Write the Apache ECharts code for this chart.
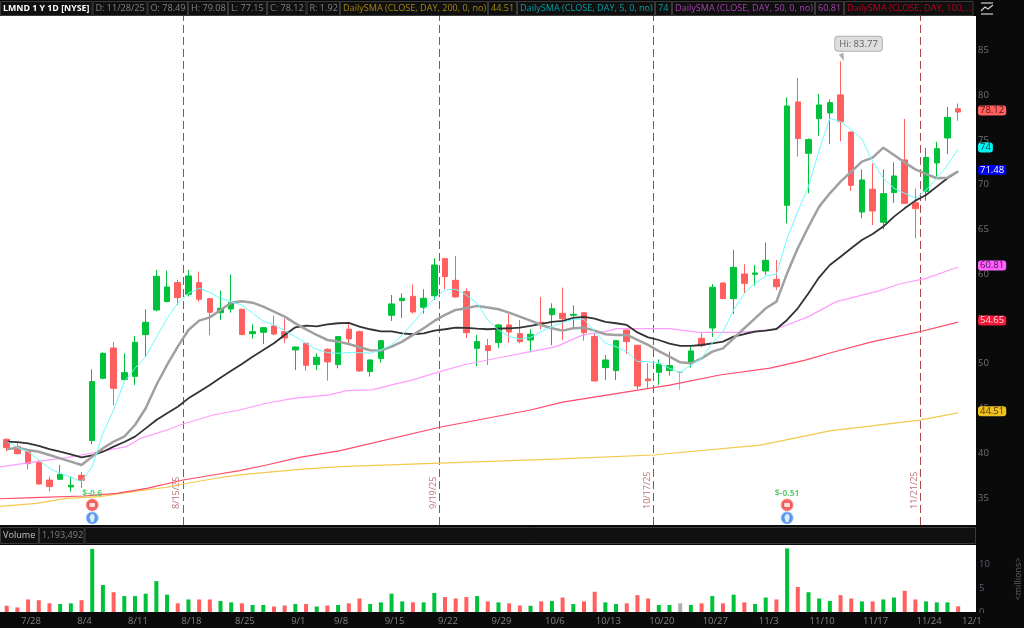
<!DOCTYPE html>
<html style="height: 100%">
<head>
  <meta charset="utf-8">
</head>
<body style="height: 100%; margin: 0; background: #0a0a0a">
  <div id="container" style="width: 1024px; height: 628px"></div>

  <script type="text/javascript" src="https://cdn.jsdelivr.net/npm/echarts@6/dist/echarts.min.js"></script>
  <script type="text/javascript">
    // daily bars, 7/24/25 to 11/28/25
    const opens = [41.55,40.74,40.2,38.95,37.0,37.09,36.23,37.53,41.41,48.37,51.76,48.22,48.59,53.25,56.0,56.94,59.06,57.76,59.06,57.27,55.7,56.12,56.08,53.36,53.51,54.22,53.58,51.54,52.28,49.9,51.61,49.9,53.85,53.58,49.12,50.57,55.41,57.05,57.53,56.3,57.6,61.74,59.32,58.05,51.72,52.02,52.36,54.33,53.36,52.65,54.63,55.48,55.63,55.41,55.7,53.03,49.56,49.23,53.77,52.06,48.3,49.04,49.23,49.04,50.05,52.84,53.99,59.02,57.27,60.03,59.99,60.36,59.43,67.7,79.25,73.51,77.38,78.02,80.03,75.89,66.95,69.49,65.8,69.12,72.77,67.98,69.26,72.43,75.22,78.49];
    const closes = [40.62,39.95,38.84,36.56,36.27,37.64,36.42,36.97,48.0,51.16,47.25,49.0,52.39,54.63,59.77,58.58,57.38,59.8,57.2,55.75,56.19,56.86,53.25,53.58,54.03,53.32,52.88,51.87,49.82,50.72,50.2,53.03,52.77,49.19,50.42,52.58,56.68,57.31,55.78,57.31,61.03,59.73,57.46,53.47,52.47,51.46,54.33,53.55,52.47,53.29,54.48,56.15,55.04,55.52,53.47,48.07,50.42,52.58,52.47,47.51,48.11,49.97,49.79,49.04,51.43,52.02,58.54,57.27,60.77,58.98,60.14,61.55,58.61,78.8,75.15,75.04,78.91,79.17,77.05,69.93,70.53,67.07,69.0,70.98,67.92,67.33,73.06,74.03,77.53,78.12];
    const lows = [40.2,39.9,38.2,36.49,35.74,37.0,35.71,36.12,41.0,48.26,45.35,48.18,47.63,50.79,55.86,56.86,56.56,57.5,56.94,53.18,54.89,55.7,53.18,52.8,52.2,53.18,52.32,49.3,49.23,49.3,48.11,49.49,52.28,49.08,48.56,50.12,54.78,55.11,55.6,55.6,57.12,58.31,57.38,52.88,49.75,49.86,51.76,52.36,52.28,51.28,53.85,52.06,52.65,54.0,52.58,48.03,48.18,48.18,51.09,47.14,47.25,47.63,48.67,47.07,49.56,51.83,52.99,57.23,55.56,57.87,58.72,59.92,58.24,65.69,73.14,69.04,75.45,74.55,74.85,69.3,66.25,65.5,65.02,67.96,67.89,64.01,68.22,70.9,73.43,77.15];
    const highs = [41.67,41.1,40.36,39.25,37.38,38.69,37.38,37.9,49.38,51.28,52.43,51.16,53.1,56.08,60.47,60.4,59.36,60.47,60.29,57.3,58.17,59.95,56.15,54.4,54.07,55.37,55.04,51.9,52.36,51.16,51.72,53.1,54.44,53.7,50.49,52.65,57.68,57.87,58.87,58.32,61.78,61.82,62.04,58.43,53.21,52.77,54.44,55.6,54.89,53.85,57.46,56.75,58.5,56.53,55.78,53.4,50.98,52.65,53.85,52.06,50.05,50.49,51.35,49.12,51.91,53.4,58.91,59.1,62.71,61.11,61.03,63.53,61.59,79.77,81.93,75.19,80.14,79.54,83.77,75.93,71.72,72.39,71.72,72.5,77.35,69.56,74.11,74.81,78.69,79.08];
    const volumes = [1.3,0.95,2.6,2.45,1.8,1.65,1.8,2.45,13.1,5.6,4.1,3.3,3.3,3.8,6.4,3.6,1.8,2.6,2.6,2.6,2.3,2.0,1.8,1.45,1.45,1.15,1.35,1.65,1.65,1.15,1.35,1.45,1.8,2.8,1.65,2.0,3.8,2.2,2.0,2.0,3.95,3.1,2.8,3.1,3.3,2.2,2.0,1.8,1.35,1.3,2.2,2.3,3.0,1.65,2.2,4.2,2.0,1.65,1.8,3.5,2.8,1.45,1.45,1.8,1.45,1.8,3.3,1.8,3.6,2.0,1.65,3.0,2.6,13.2,5.2,4.1,2.8,2.3,3.5,2.8,2.2,2.2,2.6,3.0,4.4,2.6,2.2,2.0,2.0,1.19];

    // moving averages, one reading per bar
    const sma5 = [41.29,40.66,40.17,39.24,38.31,37.75,37.31,36.82,38.5,42.22,44.83,48.0,49.49,50.79,52.95,55.07,56.75,57.87,58.43,57.98,57.31,56.93,56.56,55.63,54.77,54.33,53.69,53.02,52.28,51.61,51.24,51.17,51.24,51.24,51.17,51.54,52.1,53.22,54.52,56.01,57.31,58.24,58.32,57.68,56.75,54.89,53.77,53.03,52.77,52.92,53.59,54.15,54.59,54.97,54.97,53.59,52.28,51.91,51.35,50.24,50.24,50.05,49.49,49.04,49.86,50.6,52.3,53.58,56.0,57.87,58.98,59.8,59.99,64.01,67.0,69.8,73.88,77.42,77.05,76.12,75.11,72.58,70.72,69.6,69.04,68.48,69.41,70.72,72.2,74.0];
    const sma10 = [40.43,40.62,40.36,40.17,39.8,39.43,39.06,38.68,39.62,40.55,41.29,41.85,43.15,45.02,47.62,49.86,51.91,53.77,54.81,55.18,56.0,56.82,56.97,56.82,56.38,55.82,55.26,54.51,53.84,53.21,52.65,52.47,52.21,51.84,51.5,51.46,51.91,52.47,53.22,53.96,54.78,55.45,56.01,56.19,56.46,56.27,56.08,55.71,55.26,54.82,54.33,53.96,53.7,53.96,54.03,53.7,53.29,53.22,53.22,52.66,52.1,51.4,50.8,50.16,50.05,50.6,51.35,51.72,52.84,53.96,55.07,56.19,56.94,60.1,62.9,65.3,67.55,69.04,70.34,71.46,72.58,73.03,74.14,73.32,72.47,71.72,71.2,70.72,70.79,71.5];
    const sma20 = [41.29,41.25,41.1,40.81,40.47,40.17,39.88,39.54,39.76,40.17,40.73,41.25,41.85,42.78,43.71,44.46,45.2,46.13,46.88,47.62,48.44,49.22,49.97,50.79,51.53,52.28,53.21,54.07,54.25,54.18,54.4,54.52,54.56,54.15,53.85,53.62,53.62,53.4,53.29,53.4,53.7,53.85,54.03,54.0,53.92,53.85,53.92,53.96,54.03,54.22,54.44,54.67,54.78,55.12,55.23,55.04,54.67,54.52,54.33,53.5,52.95,52.65,52.25,52.0,52.0,52.09,52.28,52.47,53.03,53.32,53.58,53.69,53.88,54.89,56.19,57.87,59.65,61.03,61.96,62.9,63.83,64.5,65.32,66.43,67.36,68.22,68.85,69.79,70.72,71.48];

    // the slow averages are read at their bends only
    const sma50At = [-1,2.8,5.6,7,8.7,11.2,12.5,15,16.5,19.3,21.8,24.3,26.8,30.2,31.8,34.2,36,38,40.5,42.7,45.8,49,51.4,53.9,56,57,62,64.8,68.6,72,75,77.6,81.7,83.5,86,89];
    const sma50 = [38.4,39.06,39.5,39.8,40.17,40.73,41.66,42.6,43.27,44.27,44.83,45.58,46.13,46.51,46.99,47.07,47.63,48.19,49.12,49.86,50.61,51.35,51.91,53.22,53.59,53.92,53.92,53.51,53.51,53.88,55.26,56.94,58.16,58.91,59.54,60.81];
    const sma100At = [-1,2.5,7.2,10.3,13.1,16.5,19.3,21.8,24.3,27.4,31.2,40.5,49,52,56.7,62,66.7,71.4,74.7,77,81,85.5,89];
    const sma100 = [34.9,35.04,35.22,35.52,36.08,37.01,37.57,38.05,38.68,39.54,40.29,42.9,44.83,45.7,46.6,47.6,48.74,49.5,50.4,51.2,52.46,53.6,54.65];
    const sma200At = [-1,2.8,5.6,8.7,11.8,15,16.5,19.6,21.8,24.3,27.4,31.2,40.5,51.8,60.5,70.5,77,85.4,89];
    const sma200 = [34.03,34.4,34.96,35.15,35.71,36.2,36.56,37.2,37.57,37.87,38.2,38.5,38.9,39.36,39.8,40.9,42.5,43.7,44.51];

    const tickIndexes = [2,7,12,17,22,27,31,36,41,46,51,56,61,66,71,76,81,86,90];
    const tickLabels = ['7/28','8/4','8/11','8/18','8/25','9/1','9/8','9/15','9/22','9/29','10/6','10/13','10/20','10/27','11/3','11/10','11/17','11/24','12/1'];
    const priceTicks = [35,40,45,50,55,60,65,70,75,80,85];
    const volumeTicks = [0,5,10];

    const priceTags = [78.12,74,71.48,60.81,54.65,44.51];
    const eventAt = [16.5,40.5,60.5,85.5];
    const eventLabels = ['8/15/25','9/19/25','10/17/25','11/21/25'];
    const earningsAt = [8,73];
    const earningsLabels = ['$-0.6','$-0.51'];
    const highBar = 78;

    const UP = '#00c13a', DOWN = '#ff5f5f', FLAT = '#b0b0b0';
    const FONT = '"Open Sans", sans-serif';
    // x range chosen so bar 0 lands 6.7px in and bars sit 10.69px apart
    const X_MIN = -0.627, X_MAX = 90.67;

    const barColor = (i) => closes[i] > opens[i] ? UP : closes[i] < opens[i] ? DOWN : FLAT;
    const pairs = (xs, ys) => ys.map((y, i) => [xs ? xs[i] : i, y]);

    const tagStyles = [
      { backgroundColor: '#ff6060', color: '#5a1010' },
      { backgroundColor: '#00f5f5', color: '#064040' },
      { backgroundColor: '#0000f0', color: '#ffffff' },
      { backgroundColor: '#ff60ff', color: '#501050' },
      { backgroundColor: '#f01838', color: '#ffd8d8' },
      { backgroundColor: '#f0c020', color: '#4a3a00' }
    ];
    const tagRich = {};
    tagStyles.forEach((s, i) => {
      tagRich['t' + i] = Object.assign({ borderRadius: 3, padding: [0, 2, 0, 2], lineHeight: 10, fontSize: 9.5, fontFamily: FONT }, s);
    });

    // header strip: edge positions and what is written in each cell
    const headerCells = [
      [0, 92.5, 'LMND 1 Y 1D [NYSE]', '#ffffff', true],
      [92.5, 147.5, 'D: 11/28/25', '#808080'],
      [147.5, 188, 'O: 78.49', '#808080'],
      [188, 228, 'H: 79.08', '#808080'],
      [228, 267, 'L: 77.15', '#808080'],
      [267, 306.5, 'C: 78.12', '#808080'],
      [306.5, 340, 'R: 1.92', '#808080'],
      [340, 488, 'DailySMA (CLOSE, DAY, 200, 0, no)', '#a8860a'],
      [488, 517, '44.51', '#a8860a'],
      [517, 655, 'DailySMA (CLOSE, DAY, 5, 0, no)', '#00a0a0'],
      [655, 672, '74', '#00a0a0'],
      [672, 815, 'DailySMA (CLOSE, DAY, 50, 0, no)', '#a840b0'],
      [815, 844, '60.81', '#a840b0'],
      [844, 973.5, 'DailySMA (CLOSE, DAY, 100,...', '#c00020']
    ];
    const volumeCells = [
      [0, 39, 'Volume', '#c0c0c0'],
      [39, 84.5, '1,193,492', '#808080'],
      [84.5, 976, '', '#808080']
    ];

    const cellGraphics = (cells, top, height) => cells.flatMap((c) => [
      { type: 'rect', z: 50, shape: { x: c[0] + 0.5, y: top + 0.5, width: c[1] - c[0] - 1, height: height },
        style: { fill: '#101010', stroke: '#3a3a3a', lineWidth: 1 } },
      { type: 'text', z: 51, x: c[0] + 3, y: top + height / 2 + 0.5,
        style: { text: c[2], fill: c[3], font: (c[4] ? 'bold 8.8px ' : '9.1px ') + FONT, textVerticalAlign: 'middle' } }
    ]);

    const lineSeries = (name, data, color, width) => ({
      name, type: 'line', xAxisIndex: 0, yAxisIndex: 0, data, symbol: 'none', z: 5,
      lineStyle: { color, width }, silent: true
    });

    var myChart = echarts.init(document.getElementById('container'), null, { renderer: 'canvas' });

    var option = {
      animation: false,
      backgroundColor: '#0a0a0a',
      textStyle: { fontFamily: FONT },
      grid: [
        { left: 0, top: 16, width: 976, height: 509, show: true, backgroundColor: '#ffffff', borderWidth: 0 },
        { left: 0, top: 545, width: 976, height: 67, show: true, backgroundColor: '#ffffff', borderWidth: 0 }
      ],
      xAxis: [
        { type: 'value', gridIndex: 0, min: X_MIN, max: X_MAX, show: false, splitLine: { show: false } },
        {
          type: 'value', gridIndex: 1, min: X_MIN, max: X_MAX, splitLine: { show: false },
          axisLine: { show: false }, axisTick: { show: false },
          axisLabel: {
            customValues: tickIndexes, color: '#808080', fontSize: 9.5, margin: 4, padding: [0, 0, 0, 6],
            formatter: (v) => tickLabels[tickIndexes.indexOf(v)]
          }
        }
      ],
      yAxis: [
        {
          type: 'value', gridIndex: 0, position: 'right', min: 31.98, max: 88.85, splitLine: { show: false },
          axisLine: { show: false }, axisTick: { show: false },
          axisLabel: { customValues: priceTicks, color: '#707070', fontSize: 9.5, margin: 2, padding: [3, 0, 0, 0] }
        },
        {
          type: 'value', gridIndex: 0, position: 'right', min: 31.98, max: 88.85, splitLine: { show: false },
          axisLine: { show: false }, axisTick: { show: false },
          axisLabel: {
            customValues: priceTags, margin: 2, rich: tagRich, padding: [0, 0, 3, 0],
            formatter: (v) => '{t' + priceTags.indexOf(v) + '|' + v + '}'
          }
        },
        {
          type: 'value', gridIndex: 1, position: 'right', min: 0, max: 13.9, splitLine: { show: false },
          axisLine: { show: false }, axisTick: { show: false },
          axisLabel: { customValues: volumeTicks, color: '#566070', fontSize: 9.5, margin: 3, padding: [6, 0, 0, 0] }
        }
      ],
      series: [
        {
          name: 'LMND', type: 'candlestick', xAxisIndex: 0, yAxisIndex: 0, barWidth: 6, clip: false, z: 2,
          encode: { x: 0, y: [1, 2, 3, 4] },
          data: opens.map((o, i) => [i, o, closes[i], lows[i], highs[i]]),
          itemStyle: { color: UP, color0: DOWN, borderColor: UP, borderColor0: DOWN, borderColorDoji: FLAT, borderWidth: 1 },
          markPoint: {
            silent: true,
            data: [{
              coord: [highBar, highs[highBar]], symbol: 'triangle', symbolSize: [5, 8], symbolRotate: 200, symbolOffset: [2, -4],
              itemStyle: { color: '#b0b0b0' },
              label: {
                show: true, position: 'top', distance: 3, offset: [16, 1], formatter: 'Hi: ' + highs[highBar],
                color: '#606060', fontSize: 9.5, backgroundColor: '#dedede', borderColor: '#b0b0b0', borderWidth: 1,
                borderRadius: 3, padding: [2, 4, 2, 4]
              }
            }]
          }
        },
        {
          name: 'events', type: 'line', xAxisIndex: 0, yAxisIndex: 0, data: [], symbol: 'none', z: 4,
          markLine: {
            silent: true, symbol: 'none', animation: false,
            lineStyle: { color: '#a84848', type: [8, 4], width: 1 },
            data: eventAt.map((x, i) => ({
              xAxis: x,
              label: {
                show: true, formatter: eventLabels[i], position: 'insideStartTop', distance: 2,
                color: '#b87070', fontSize: 9, offset: [14, -4]
              }
            }))
          }
        },
        lineSeries('SMA200', pairs(sma200At, sma200), '#f2c94c', 1.2),
        lineSeries('SMA100', pairs(sma100At, sma100), '#ff4a68', 1.2),
        lineSeries('SMA50', pairs(sma50At, sma50), '#ff9cff', 1.2),
        lineSeries('SMA20', pairs(null, sma20), '#333333', 1.8),
        lineSeries('SMA10', pairs(null, sma10), '#a0a0a0', 2.5),
        lineSeries('SMA5', pairs(null, sma5), '#6cfcfc', 1),
        {
          name: 'earnings', type: 'scatter', xAxisIndex: 0, yAxisIndex: 0, z: 6, silent: true, symbolSize: 1,
          itemStyle: { color: 'transparent' },
          data: earningsAt.map((x, i) => ({
            value: [x, 35.45],
            label: { show: true, position: 'inside', formatter: earningsLabels[i], color: '#3cc050', fontSize: 8.5, fontWeight: 'bold' }
          }))
        },
        {
          name: 'earningsIcon', type: 'scatter', xAxisIndex: 0, yAxisIndex: 0, z: 6, silent: true, symbolSize: 12,
          itemStyle: { color: '#e8403c', borderColor: '#ff9090', borderWidth: 1 },
          data: earningsAt.map((x) => [x, 34.22])
        },
        {
          name: 'earningsIconInner', type: 'scatter', xAxisIndex: 0, yAxisIndex: 0, z: 7, silent: true, symbol: 'roundRect', symbolSize: [7, 5],
          itemStyle: { color: '#ffffff', borderColor: '#e8403c', borderWidth: 1 },
          data: earningsAt.map((x) => [x, 34.22])
        },
        {
          name: 'dividendIcon', type: 'scatter', xAxisIndex: 0, yAxisIndex: 0, z: 6, silent: true, symbolSize: 12,
          itemStyle: { color: '#2f80e8', borderColor: '#90c0ff', borderWidth: 1 },
          data: earningsAt.map((x) => [x, 32.77])
        },
        {
          name: 'dividendIconInner', type: 'scatter', xAxisIndex: 0, yAxisIndex: 0, z: 7, silent: true,
          symbol: 'path://M5 0a4 4 0 0 1 2.5 7v2h-5v-2a4 4 0 0 1 2.5-7z', symbolSize: [5, 8],
          itemStyle: { color: '#ffffff' },
          data: earningsAt.map((x) => [x, 32.77])
        },
        {
          name: 'Volume', type: 'bar', xAxisIndex: 1, yAxisIndex: 2, barWidth: 4,
          encode: { x: 0, y: 1 },
          data: volumes.map((v, i) => ({ value: [i, v], itemStyle: { color: barColor(i) } }))
        }
      ],
      graphic: { elements: [
        { type: 'rect', z: 49, shape: { x: 0, y: 0, width: 976, height: 16 }, style: { fill: '#0a0a0a' } }
      ].concat(cellGraphics(headerCells, 1, 14), cellGraphics(volumeCells, 527, 16), [
        // chart icon, top right
        { type: 'line', z: 51, shape: { x1: 981, y1: 3, x2: 993, y2: 3 }, style: { stroke: '#d0d0d0', lineWidth: 1.2 } },
        { type: 'polyline', z: 51, shape: { points: [[981, 11], [985, 7], [988, 9], [993, 5]] }, style: { stroke: '#d0d0d0', fill: 'none', lineWidth: 1.2 } },
        { type: 'line', z: 51, shape: { x1: 981, y1: 14, x2: 993, y2: 14 }, style: { stroke: '#d0d0d0', lineWidth: 1.2 } },
        // volume 0 tick is cut by the panel edge
        { type: 'rect', z: 60, shape: { x: 977, y: 613, width: 22, height: 4 }, style: { fill: '#0a0a0a' } },
        { type: 'text', z: 51, x: 1018, y: 579, rotation: Math.PI / 2,
          style: { text: '<millions>', fill: '#606060', font: '9px ' + FONT, textAlign: 'center', textVerticalAlign: 'middle' } }
      ]) }
    };

    myChart.setOption(option);
    window.addEventListener('resize', myChart.resize);
  </script>
</body>
</html>
